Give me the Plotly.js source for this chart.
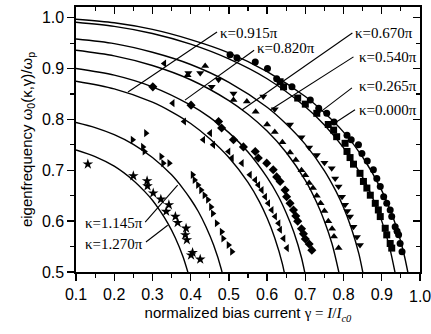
<!DOCTYPE html>
<html>
<head>
<meta charset="utf-8">
<script src="https://cdn.plot.ly/plotly-3.0.1.min.js"></script>
<style>html,body{margin:0;padding:0;background:#fff;}#chart{width:431px;height:334px;}</style>
</head>
<body>
<div id="chart"></div>
<script>
// ---- theory curves ----
const curve0000x = [0.1,0.2,0.3,0.4,0.5,0.6,0.7,0.75,0.8,0.85,0.9,0.93,0.95,0.96,0.97];
const curve0000y = [0.997,0.990,0.977,0.957,0.931,0.894,0.845,0.813,0.775,0.726,0.660,0.606,0.559,0.529,0.493];
const curve0265x = [0.1,0.2,0.3,0.4,0.5,0.6,0.7,0.75,0.8,0.85,0.88,0.9,0.92,0.94];
const curve0265y = [0.991,0.983,0.969,0.948,0.919,0.880,0.825,0.789,0.744,0.686,0.639,0.600,0.550,0.479];
const curve0540x = [0.1,0.2,0.3,0.4,0.5,0.6,0.65,0.7,0.75,0.78,0.8,0.82,0.84,0.86];
const curve0540y = [0.958,0.949,0.932,0.908,0.873,0.824,0.791,0.751,0.699,0.659,0.627,0.587,0.536,0.462];
const curve0670x = [0.1,0.2,0.3,0.4,0.5,0.55,0.6,0.65,0.7,0.73,0.75,0.77,0.79];
const curve0670y = [0.936,0.925,0.906,0.878,0.837,0.810,0.777,0.735,0.680,0.636,0.600,0.555,0.492];
const curve0820x = [0.1,0.2,0.3,0.4,0.45,0.5,0.55,0.6,0.63,0.65,0.67,0.69,0.71];
const curve0820y = [0.900,0.887,0.864,0.828,0.804,0.774,0.736,0.686,0.648,0.616,0.578,0.528,0.456];
const curve0915x = [0.1,0.2,0.3,0.35,0.4,0.45,0.5,0.55,0.58,0.6,0.62,0.64,0.66];
const curve0915y = [0.875,0.860,0.834,0.815,0.792,0.762,0.725,0.676,0.638,0.606,0.567,0.516,0.439];
const curve1145x = [0.1,0.15,0.2,0.25,0.3,0.35,0.38,0.4,0.42,0.44,0.46,0.48,0.5];
const curve1145y = [0.794,0.784,0.770,0.751,0.725,0.691,0.664,0.643,0.619,0.589,0.553,0.506,0.435];
const curve1270x = [0.1,0.15,0.2,0.25,0.28,0.3,0.32,0.34,0.36,0.38,0.4];
const curve1270y = [0.740,0.727,0.708,0.680,0.658,0.641,0.620,0.596,0.567,0.530,0.481];

// ---- measured points ----
const data0000x = [0.503,0.521,0.569,0.601,0.625,0.665,0.713,0.735,0.756,0.775,0.809,0.820,0.839,0.848,0.862,0.878,0.887,0.896,0.905,0.913,0.922,0.926,0.935,0.940,0.944,0.948,0.953];
const data0000y = [0.927,0.921,0.913,0.900,0.880,0.864,0.838,0.822,0.812,0.795,0.769,0.760,0.750,0.733,0.718,0.701,0.684,0.668,0.648,0.635,0.622,0.609,0.589,0.580,0.573,0.556,0.540];
const data0265x = [0.634,0.643,0.680,0.700,0.730,0.760,0.774,0.782,0.804,0.809,0.817,0.826,0.843,0.852,0.861,0.870,0.883,0.891,0.896,0.909,0.913,0.922,0.926];
const data0265y = [0.874,0.864,0.842,0.830,0.812,0.790,0.779,0.766,0.753,0.737,0.725,0.712,0.694,0.678,0.665,0.651,0.635,0.622,0.609,0.586,0.573,0.556,0.547];
const data0540x = [0.394,0.425,0.455,0.473,0.512,0.590,0.620,0.660,0.690,0.710,0.730,0.750,0.769,0.778,0.787,0.796,0.804,0.810,0.817,0.826,0.835,0.843];
const data0540y = [0.891,0.891,0.864,0.878,0.851,0.845,0.820,0.790,0.765,0.745,0.730,0.715,0.704,0.684,0.668,0.648,0.632,0.620,0.609,0.589,0.569,0.553];
const data0670x = [0.392,0.438,0.512,0.547,0.570,0.600,0.620,0.640,0.660,0.675,0.690,0.700,0.710,0.720,0.730,0.740,0.750,0.760,0.770,0.775,0.787];
const data0670y = [0.887,0.905,0.838,0.835,0.815,0.790,0.775,0.755,0.735,0.720,0.700,0.690,0.675,0.665,0.650,0.635,0.620,0.600,0.585,0.570,0.547];
const data0820x = [0.301,0.401,0.473,0.481,0.512,0.538,0.569,0.577,0.599,0.616,0.625,0.634,0.647,0.651,0.660,0.669,0.675,0.680,0.690,0.695,0.700,0.710,0.717];
const data0820y = [0.864,0.828,0.796,0.783,0.760,0.746,0.737,0.724,0.714,0.701,0.687,0.678,0.661,0.648,0.635,0.622,0.610,0.600,0.585,0.575,0.565,0.555,0.543];
const data0915x = [0.331,0.353,0.383,0.433,0.451,0.459,0.499,0.508,0.534,0.555,0.569,0.577,0.586,0.595,0.603,0.612,0.621,0.630,0.634,0.643,0.652];
const data0915y = [0.910,0.832,0.796,0.760,0.773,0.750,0.737,0.724,0.714,0.691,0.681,0.671,0.661,0.648,0.635,0.622,0.609,0.596,0.583,0.566,0.547];
const data1145x = [0.248,0.283,0.275,0.279,0.323,0.328,0.344,0.405,0.410,0.419,0.427,0.436,0.445,0.453,0.458,0.468,0.481,0.485,0.499,0.508];
const data1145y = [0.760,0.773,0.746,0.737,0.727,0.714,0.714,0.691,0.681,0.671,0.661,0.651,0.642,0.628,0.615,0.596,0.579,0.566,0.553,0.540];
const data1270x = [0.131,0.250,0.286,0.287,0.302,0.322,0.343,0.336,0.360,0.366,0.388,0.386,0.390,0.401,0.405,0.425];
const data1270y = [0.712,0.689,0.679,0.669,0.655,0.643,0.632,0.619,0.609,0.597,0.586,0.573,0.563,0.533,0.538,0.525];

// ---- labels ----
const kappaLabels = ['κ=0.915π','κ=0.820π','κ=0.670π','κ=0.540π','κ=0.265π','κ=0.000π','κ=1.145π','κ=1.270π'];
const labelTextX  = [0.471,0.568,0.826,0.836,0.836,0.836,0.280,0.280];
const labelTextY  = [0.970,0.940,0.970,0.923,0.866,0.818,0.596,0.555];
const labelAnchor = ['left','left','left','left','left','left','right','right'];
const leaderFromX = [0.469,0.566,0.823,0.826,0.822,0.830,0.281,0.283];
const leaderFromY = [0.972,0.936,0.970,0.923,0.862,0.819,0.598,0.559];
const leaderToX   = [0.236,0.385,0.534,0.608,0.726,0.773,0.366,0.340];
const leaderToY   = [0.854,0.838,0.8185,0.8185,0.807,0.791,0.671,0.592];

const xTicks = [0.1,0.2,0.3,0.4,0.5,0.6,0.7,0.8,0.9,1.0];
const yTicks = [0.5,0.6,0.7,0.8,0.9,1.0];
const lastXTick = xTicks[xTicks.length - 1];

const curves = [
  [curve0000x,curve0000y],[curve0265x,curve0265y],[curve0540x,curve0540y],[curve0670x,curve0670y],
  [curve0820x,curve0820y],[curve0915x,curve0915y],[curve1145x,curve1145y],[curve1270x,curve1270y]
];
const sets = [
  [data0000x,data0000y,'circle'],[data0265x,data0265y,'square'],[data0540x,data0540y,'triangle-down'],
  [data0670x,data0670y,'triangle-up'],[data0820x,data0820y,'diamond'],[data0915x,data0915y,'triangle-left'],
  [data1145x,data1145y,'triangle-right'],[data1270x,data1270y,'star']
];

const traces = [];
curves.forEach(c => traces.push({
  x: c[0], y: c[1], type: 'scatter', mode: 'lines',
  line: {color: '#000', width: 1.4, shape: 'spline', smoothing: 0.8},
  hoverinfo: 'skip', showlegend: false
}));
sets.forEach(s => traces.push({
  x: s[0], y: s[1], type: 'scatter', mode: 'markers',
  marker: {symbol: s[2], color: '#000', size: s[2]==='star' ? 8 : 7, line: {width: 0}},
  showlegend: false, cliponaxis: true
}));
// helper trace for mirrored axes
traces.push({x: [null], y: [null], xaxis: 'x2', yaxis: 'y2', type: 'scatter', mode: 'markers', showlegend: false, hoverinfo: 'skip'});

const axisFont = {family: 'Arial, Liberation Sans, sans-serif', size: 16, color: '#000'};
const xr = [0.1, 1.0], yr = [0.5, 1.021];

const shapes = leaderFromX.map((v, i) => ({
  type: 'line', xref: 'x', yref: 'y',
  x0: v, y0: leaderFromY[i], x1: leaderToX[i], y1: leaderToY[i],
  line: {color: '#000', width: 1.1}
}));
const annotations = kappaLabels.map((t, i) => ({
  text: t, x: labelTextX[i], y: labelTextY[i], xref: 'x', yref: 'y',
  xanchor: labelAnchor[i], yanchor: 'middle', showarrow: false,
  font: {family: 'Liberation Serif, Times New Roman, serif', size: 15, color: '#000'}
}));
// last x tick label sits past the page edge; draw it as text so it is not auto-hidden
annotations.push({
  text: lastXTick.toFixed(1), x: lastXTick, xref: 'x', y: -0.094, yref: 'paper',
  xanchor: 'center', yanchor: 'middle', showarrow: false, font: axisFont
});

const layout = {
  width: 431, height: 334,
  margin: {l: 76, r: 11, t: 7, b: 62},
  paper_bgcolor: '#fff', plot_bgcolor: '#fff',
  showlegend: false,
  xaxis: {
    range: xr, tickvals: xTicks, ticktext: xTicks.map(v => v === lastXTick ? '' : v.toFixed(1)),
    ticks: 'outside', ticklen: 7, tickwidth: 1.3, tickcolor: '#000',
    minor: {dtick: 0.05, tick0: 0.05, ticks: 'outside', ticklen: 4, tickwidth: 1.2, tickcolor: '#000'},
    showline: true, linecolor: '#000', linewidth: 1.6, showgrid: false, zeroline: false,
    tickfont: axisFont,
    title: {text: 'normalized bias current <span style="font-family:Liberation Serif">γ = <i>I</i>/<i>I</i><sub><i>c0</i></sub></span>',
            font: {family: 'Arial, Liberation Sans, sans-serif', size: 15, color: '#000'}, standoff: 6}
  },
  yaxis: {
    range: yr, tickvals: yTicks, ticktext: yTicks.map(v => v.toFixed(1)),
    ticks: 'outside', ticklen: 7, tickwidth: 1.3, tickcolor: '#000',
    minor: {dtick: 0.05, tick0: 0.05, ticks: 'outside', ticklen: 4, tickwidth: 1.2, tickcolor: '#000'},
    showline: true, linecolor: '#000', linewidth: 1.6, showgrid: false, zeroline: false,
    tickfont: axisFont,
    title: {text: 'eigenfrequency ω<sub>0</sub>(κ,γ)/ω<sub>p</sub>',
            font: {family: 'Arial, Liberation Sans, sans-serif', size: 15, color: '#000'}, standoff: 6}
  },
  xaxis2: {
    overlaying: 'x', side: 'top', anchor: 'y2', range: xr, tickvals: xTicks, showticklabels: false,
    ticks: 'inside', ticklen: 7, tickwidth: 1.3, tickcolor: '#000',
    minor: {dtick: 0.05, tick0: 0.05, ticks: 'inside', ticklen: 4, tickwidth: 1.2, tickcolor: '#000'},
    showline: true, linecolor: '#000', linewidth: 1.6, showgrid: false, zeroline: false
  },
  yaxis2: {
    overlaying: 'y', side: 'right', anchor: 'x2', range: yr, tickvals: yTicks, showticklabels: false,
    ticks: 'inside', ticklen: 7, tickwidth: 1.3, tickcolor: '#000',
    minor: {dtick: 0.05, tick0: 0.05, ticks: 'inside', ticklen: 4, tickwidth: 1.2, tickcolor: '#000'},
    showline: true, linecolor: '#000', linewidth: 1.6, showgrid: false, zeroline: false
  },
  shapes: shapes,
  annotations: annotations
};

Plotly.newPlot('chart', traces, layout, {staticPlot: true, displayModeBar: false});
</script>
</body>
</html>
